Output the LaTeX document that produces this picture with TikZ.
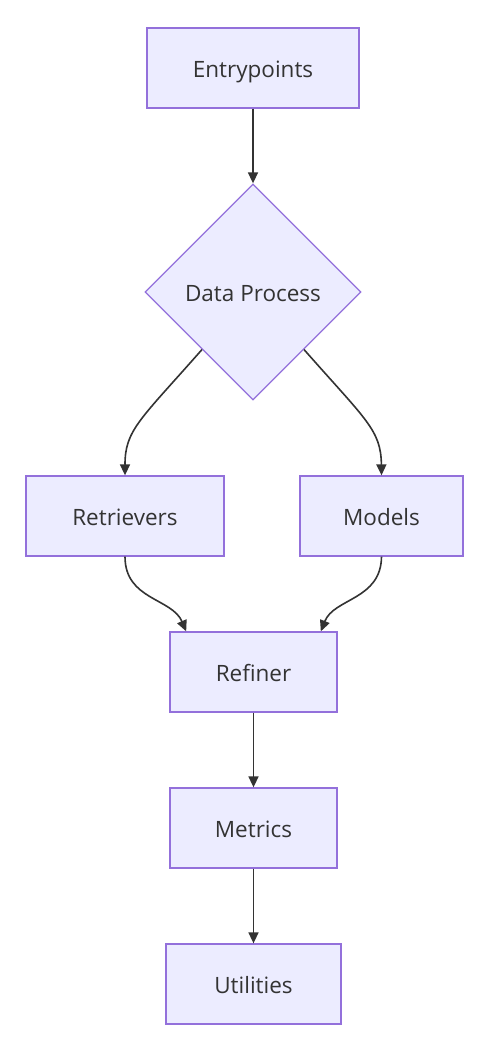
\documentclass[tikz,border=0pt]{standalone}
\usepackage{fontspec}
\setmainfont{Open Sans}
\usetikzlibrary{shapes.geometric,arrows.meta,calc}
\definecolor{nodefill}{HTML}{ECECFF}
\definecolor{nodeline}{HTML}{9370DB}
\definecolor{txt}{HTML}{333333}
\tikzset{
  lbl/.style={text=txt, font=\fontsize{22.5}{27}\selectfont, text height=20pt, text depth=1pt},
  box/.style={lbl, draw=nodeline, fill=nodefill, line width=1.3pt, minimum height=80pt, inner sep=0pt},
  decision/.style={lbl, diamond, draw=nodeline, fill=nodefill, line width=1.3pt, minimum width=216pt, minimum height=216pt, inner sep=0pt},
  link/.style={draw=txt, line width=1.6pt, -{Triangle[length=11pt,width=10pt]}}
}
\begin{document}
\begin{tikzpicture}[x=1pt,y=-1pt]
\useasboundingbox (0,0) rectangle (494,1038);
\node[box, minimum width=212pt] (ep) at (253,68) {Entrypoints};
\node[decision] (dp) at (253,292) {Data Process};
\node[box, minimum width=198pt] (ret) at (125,516) {Retrievers};
\node[box, minimum width=163pt] (mod) at (381.5,516) {Models};
\node[box, minimum width=167pt] (ref) at (253.5,672) {Refiner};
\node[box, minimum width=167pt] (met) at (253.5,828) {Metrics};
\node[box, minimum width=175pt] (uti) at (253.5,984) {Utilities};

\draw[link] (ep) -- (dp.north);
\draw[link] ($(dp.west)!0.53!(dp.south)$) .. controls (140,420) and (125,430) .. (ret.north);
\draw[link] ($(dp.east)!0.53!(dp.south)$) .. controls (366,420) and (381,430) .. (mod.north);
\draw[link] (ret.south) .. controls (125,600) and (172,598) .. ($(ref.north west)!0.1!(ref.north east)$);
\draw[link] (mod.south) .. controls (381,600) and (334,598) .. ($(ref.north west)!0.9!(ref.north east)$);
\draw[link] (ref) -- (met);
\draw[link] (met) -- (uti);
\end{tikzpicture}
\end{document}
